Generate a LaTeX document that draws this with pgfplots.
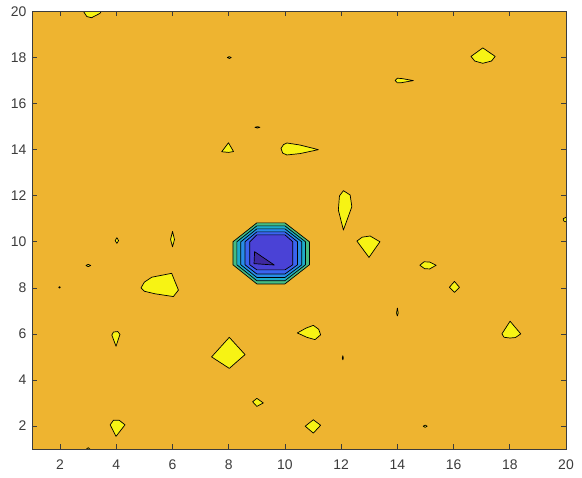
\documentclass[border=0pt]{standalone}
\usepackage{fontspec}
\setmainfont{Liberation Sans}
\usepackage{pgfplots}
\pgfplotsset{compat=1.18}
\definecolor{bgor}{RGB}{238,180,48}
\definecolor{yel}{RGB}{247,243,20}
\definecolor{c1}{RGB}{70,188,130}
\definecolor{c2}{RGB}{30,172,200}
\definecolor{c3}{RGB}{40,140,232}
\definecolor{c4}{RGB}{58,100,240}
\definecolor{c5}{RGB}{74,66,214}
\definecolor{c6}{RGB}{62,40,160}
\definecolor{axgray}{RGB}{60,60,60}
\pgfplotsset{
  yb/.style={fill=yel, draw=black, line width=0.7bp, mark=none, line join=round},
  rb/.style={fill=#1, draw=black, line width=0.7bp, mark=none, line join=round},
}
\begin{document}
\begin{tikzpicture}
\begin{axis}[
  width=534bp, height=437.5bp, scale only axis,
  xmin=1, xmax=20, ymin=1, ymax=20,
  xtick={2,4,...,20}, ytick={2,4,...,20},
  tick align=inside, tick pos=both,
  major tick length=5bp,
  axis line style={axgray, line width=0.6bp},
  every tick/.style={axgray, line width=0.6bp},
  tick label style={font=\fontsize{14}{16}\selectfont, text=axgray},
  xticklabel style={yshift=-7bp},
  yticklabel style={xshift=-2bp},
  /pgf/number format/assume math mode=true,
  axis on top,
  clip=true,
]
% background band
\addplot[fill=bgor, draw=none, mark=none] coordinates {(1,1) (20,1) (20,20) (1,20)} -- cycle;

% central depression rings
\addplot[rb=c1] coordinates {(9,10.82) (10,10.82) (10.87,10) (10.87,9) (10,8.17) (9,8.17) (8.15,9) (8.15,10)} -- cycle;
\addplot[rb=c2] coordinates {(9,10.69) (10,10.69) (10.73,10) (10.73,9) (10,8.31) (9,8.31) (8.29,9) (8.29,10)} -- cycle;
\addplot[rb=c3] coordinates {(9,10.56) (10,10.56) (10.6,10) (10.6,9) (10,8.45) (9,8.45) (8.43,9) (8.43,10)} -- cycle;
\addplot[rb=c4] coordinates {(9,10.43) (10,10.43) (10.45,10) (10.45,9) (10,8.6) (9,8.6) (8.58,9) (8.58,10)} -- cycle;
\addplot[rb=c5] coordinates {(9,10.3) (10,10.3) (10.28,10) (10.28,9) (10,8.78) (9,8.78) (8.75,9) (8.75,10)} -- cycle;
\addplot[rb=c6] coordinates {(8.92,9.57) (9.62,8.99) (8.9,9.05)} -- cycle;

% yellow peaks and small loops
\addplot[yb] coordinates {(2.78,20.1) (2.95,19.78) (3.12,19.73) (3.42,19.92) (3.5,20.1)} -- cycle;
\addplot[yb] coordinates {(7.95,18.0) (8.02,18.04) (8.09,18.0) (8.02,17.96)} -- cycle;
\addplot[yb] coordinates {(8.93,14.97) (9.02,15.0) (9.11,14.97) (9.02,14.94)} -- cycle;
\addplot[yb] coordinates {(7.99,14.3) (8.17,13.92) (8.0,13.88) (7.75,13.91)} -- cycle;
\addplot[yb] coordinates {(9.86,14.05) (9.95,14.22) (10.07,14.29) (10.54,14.2) (11.19,14.0) (10.54,13.83) (10.07,13.77) (9.92,13.85)} -- cycle;
\addplot[yb] coordinates {(13.92,17.0) (14.0,17.1) (14.15,17.09) (14.57,17.0) (14.15,16.91) (14.0,16.9)} -- cycle;
\addplot[yb] coordinates {(17.04,18.42) (17.48,18.05) (17.35,17.85) (17.04,17.75) (16.75,17.85) (16.62,18.05)} -- cycle;
\addplot[yb] coordinates {(20.1,11.12) (19.9,11.0) (19.92,10.9) (20.1,10.82)} -- cycle;
\addplot[yb] coordinates {(14.8,8.98) (14.95,9.13) (15.15,9.12) (15.38,8.98) (15.15,8.82) (14.97,8.83)} -- cycle;
\addplot[yb] coordinates {(16.03,8.28) (16.21,8.02) (16.03,7.8) (15.85,8.02)} -- cycle;
\addplot[yb] coordinates {(14.0,7.12) (14.03,6.9) (14.0,6.78) (13.97,6.9)} -- cycle;
\addplot[yb] coordinates {(12.56,10.03) (12.75,10.2) (13.03,10.25) (13.38,10.0) (12.99,9.32)} -- cycle;
\addplot[yb] coordinates {(12.08,12.22) (12.32,12.03) (12.38,11.52) (12.08,10.51) (11.9,11.38) (11.94,11.99)} -- cycle;
\addplot[yb] coordinates {(6.0,10.45) (6.07,10.1) (6.0,9.78) (5.93,10.1)} -- cycle;
\addplot[yb] coordinates {(4.02,10.18) (4.08,10.05) (4.02,9.93) (3.96,10.05)} -- cycle;
\addplot[yb] coordinates {(2.92,8.97) (3.0,9.02) (3.09,8.97) (3.0,8.92)} -- cycle;
\addplot[yb] coordinates {(1.95,8.02) (1.98,8.05) (2.01,8.02) (1.98,7.99)} -- cycle;
\addplot[yb] coordinates {(4.88,8.0) (5.0,8.25) (5.26,8.46) (5.97,8.63) (6.21,7.9) (6.03,7.62) (5.38,7.74) (5.0,7.85)} -- cycle;
\addplot[yb] coordinates {(3.84,5.95) (3.9,6.08) (4.05,6.1) (4.13,5.98) (3.99,5.46)} -- cycle;
\addplot[yb] coordinates {(3.78,2.05) (3.9,2.25) (4.1,2.25) (4.31,2.05) (3.99,1.55)} -- cycle;
\addplot[yb] coordinates {(2.9,0.95) (3.0,1.06) (3.1,0.95)} -- cycle;
\addplot[yb] coordinates {(8.02,5.85) (8.58,5.1) (8.02,4.5) (7.39,5.0)} -- cycle;
\addplot[yb] coordinates {(10.44,6.04) (10.75,6.25) (11.01,6.37) (11.2,6.2) (11.27,5.96) (11.07,5.75) (10.78,5.85)} -- cycle;
\addplot[yb] coordinates {(12.06,5.05) (12.08,4.95) (12.06,4.87) (12.04,4.95)} -- cycle;
\addplot[yb] coordinates {(9.0,3.2) (9.23,3.0) (9.0,2.85) (8.85,3.05)} -- cycle;
\addplot[yb] coordinates {(11.01,2.27) (11.27,2.03) (11.01,1.69) (10.72,1.99)} -- cycle;
\addplot[yb] coordinates {(14.92,1.99) (14.99,2.04) (15.06,1.99) (14.99,1.94)} -- cycle;
\addplot[yb] coordinates {(18.01,6.55) (18.39,6.0) (18.2,5.84) (18.01,5.82) (17.8,5.85) (17.72,6.0)} -- cycle;
\end{axis}
\pgfresetboundingbox
\path ([xshift=-32bp,yshift=-29bp]current axis.south west) rectangle ([xshift=16bp,yshift=11.5bp]current axis.north east);
\end{tikzpicture}
\end{document}
